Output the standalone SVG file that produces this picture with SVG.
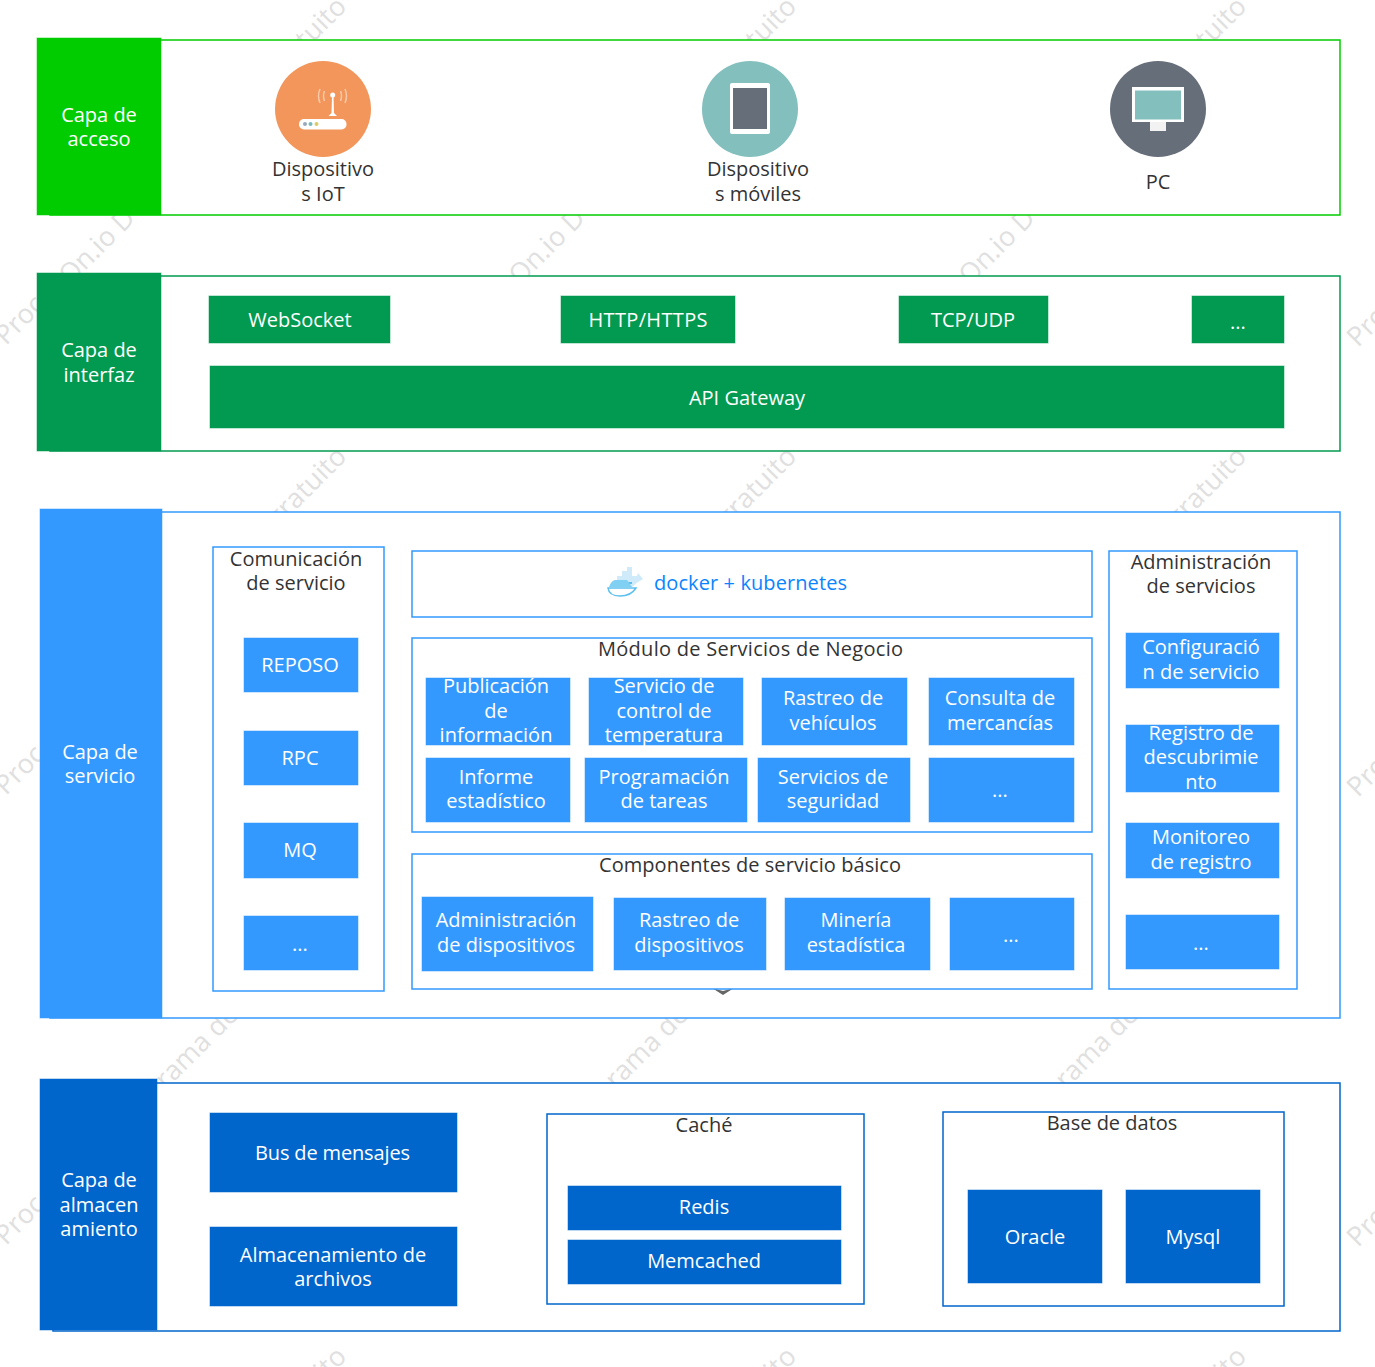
<svg xmlns="http://www.w3.org/2000/svg" width="1375" height="1367" viewBox="0 0 1375 1367">
<style>
text{font-family:"Open Sans","Noto Sans","Liberation Sans",sans-serif;font-size:20px;text-anchor:middle}
.w{fill:#fff}.d{fill:#333}
.ws text{fill:#e0e0e0;font-size:27px;text-anchor:start}
.we text{fill:#e0e0e0;font-size:27px;text-anchor:end}
.g1{fill:#00cc00;stroke:#00cc00}.g2{fill:#029a50;stroke:#029a50}.b1{fill:#3399ff;stroke:#3399ff}.b2{fill:#0066cc;stroke:#0066cc}
.g1,.g2,.b1,.b2{stroke-width:1;stroke-opacity:.5}
.p{fill:#fff;stroke-width:1.5}
.sb{fill:#fff;stroke:#3399ff;stroke-width:1.5}
.sc{fill:#fff;stroke:#0066cc;stroke-width:1.5}
</style>
<rect width="1375" height="1367" fill="#fff"/>
<g id="watermarks">
<g class="ws">
<text transform="translate(6 346) rotate(-45)">Proc</text>
<text transform="translate(1358 348) rotate(-45)">Pro</text>
<text transform="translate(70 286) rotate(-45)">On.io D</text>
<text transform="translate(520 286) rotate(-45)">On.io D</text>
<text transform="translate(970 286) rotate(-45)">On.io D</text>
<text transform="translate(6 796) rotate(-45)">Proc</text>
<text transform="translate(1358 798) rotate(-45)">Pro</text>
<text transform="translate(6 1246) rotate(-45)">Proc</text>
<text transform="translate(1358 1248) rotate(-45)">Pro</text>
</g>
<g class="we">
<text transform="translate(348 8) rotate(-45)">tuito</text>
<text transform="translate(798 8) rotate(-45)">tuito</text>
<text transform="translate(1248 8) rotate(-45)">tuito</text>
<text transform="translate(348 458) rotate(-45)">gratuito</text>
<text transform="translate(798 458) rotate(-45)">gratuito</text>
<text transform="translate(1248 458) rotate(-45)">gratuito</text>
<text transform="translate(240 1016) rotate(-45)">rama de</text>
<text transform="translate(690 1016) rotate(-45)">rama de</text>
<text transform="translate(1140 1016) rotate(-45)">rama de</text>
<text transform="translate(348 1358) rotate(-45)">ito</text>
<text transform="translate(798 1358) rotate(-45)">ito</text>
<text transform="translate(1248 1358) rotate(-45)">ito</text>
</g>
</g>
<g id="connectors"></g>
<g id="layer-acceso">
<rect x="50" y="40" width="1290" height="175" class="p" stroke="#00cc00"/>
<rect x="37" y="38" width="124" height="177" class="g1"/>
<text class="w" x="99" y="122">Capa de</text><text class="w" x="99" y="146">acceso</text>
</g>
<g id="iot">
<circle cx="323" cy="109" r="48" fill="#f2965c"/>
<path d="M331.500 113l.5-17h1.500l.5 17 3 3h-8.500z" fill="#fff"/><circle cx="332.700" cy="95" r="2.500" fill="#fff"/>
<path d="M320 89q-3 7 0 14M324.500 91q-2 5 0 10M345 89q3 7 0 14M340.500 91q2 5 0 10" fill="none" stroke="#f9c9a8" stroke-width="1.500"/>
<rect x="299" y="119" width="47.500" height="10.500" rx="5" fill="#fff"/>
<circle cx="305" cy="124" r="2" fill="#9ab"/><circle cx="310.500" cy="124" r="2" fill="#7bb"/><circle cx="316.500" cy="124" r="2" fill="#dc6"/>
<text class="d" x="323" y="176">Dispositivo</text><text class="d" x="323" y="201">s IoT</text>
</g>
<g id="movil">
<circle cx="750" cy="109" r="48" fill="#82bfbd"/>
<rect x="730" y="83" width="40" height="51" rx="2" fill="#fff"/>
<rect x="733" y="88" width="34" height="41" fill="#666e7a"/>
<text class="d" x="758" y="176">Dispositivo</text><text class="d" x="758" y="201">s móviles</text>
</g>
<g id="pc">
<circle cx="1158" cy="109" r="48" fill="#666e7a"/>
<rect x="1150" y="121" width="16" height="10" fill="#f2f2f2"/>
<rect x="1132" y="87" width="52" height="35" fill="#fff"/>
<rect x="1135" y="90.500" width="46" height="29" fill="#82bfbd"/>
<text class="d" x="1158" y="189">PC</text>
</g>
<g id="layer-interfaz">
<rect x="50" y="276" width="1290" height="175" class="p" stroke="#029a50"/>
<rect x="37" y="273" width="124" height="178" class="g2"/>
<text class="w" x="99" y="357">Capa de</text><text class="w" x="99" y="382">interfaz</text>
</g>
<g id="websocket"><rect x="209" y="296" width="181" height="47" class="g2"/><text class="w" x="300" y="327">WebSocket</text></g>
<g id="http"><rect x="561" y="296" width="174" height="47" class="g2"/><text class="w" x="648" y="327" textLength="119">HTTP/HTTPS</text></g>
<g id="tcp"><rect x="899" y="296" width="149" height="47" class="g2"/><text class="w" x="973" y="327">TCP/UDP</text></g>
<g id="more-if"><rect x="1192" y="296" width="92" height="47" class="g2"/><text class="w" x="1238" y="329">...</text></g>
<g id="gateway"><rect x="210" y="366" width="1074" height="62" class="g2"/><text class="w" x="747" y="405">API Gateway</text></g>
<g id="layer-servicio">
<rect x="50" y="512" width="1290" height="506" class="p" stroke="#3399ff"/>
<path d="M712 988l11 7 11-7-11 3z" fill="#666"/>
<rect x="40" y="509" width="122" height="509" class="b1"/>
<text class="w" x="100" y="759">Capa de</text><text class="w" x="100" y="783">servicio</text>
</g>
<g id="comunicacion">
<rect x="213" y="547" width="171" height="444" class="sb"/>
<text class="d" x="296" y="566">Comunicación</text><text class="d" x="296" y="590">de servicio</text>
</g>
<g id="reposo"><rect x="244" y="638" width="114" height="54" class="b1"/><text class="w" x="300" y="672">REPOSO</text></g>
<g id="rpc"><rect x="244" y="731" width="114" height="54" class="b1"/><text class="w" x="300" y="765">RPC</text></g>
<g id="mq"><rect x="244" y="823" width="114" height="55" class="b1"/><text class="w" x="300" y="857">MQ</text></g>
<g id="more-com"><rect x="244" y="916" width="114" height="54" class="b1"/><text class="w" x="300" y="951">...</text></g>
<g id="docker">
<rect x="412" y="551" width="680" height="66" class="sb"/>
<path d="M617 583v-7h5v-5h5v-4h5v9h5l1-3 5 6q-6 3-11 8h-8z" fill="#cfeaf8"/>
<path d="M612 583h20" stroke="#5cc0ee" stroke-width="2" fill="none"/>
<path d="M608 588h28q-5 8-16 8-11 0-12-8z" fill="#fff" stroke="#5cc0ee" stroke-width="1.500"/>
<path d="M609 587q2-6 6-7h12l5 7z" fill="#7fd0f2"/>
<text x="750.500" y="590" fill="#0a84ff" textLength="193">docker + kubernetes</text>
</g>
<g id="negocio">
<rect x="412" y="638" width="680" height="194" class="sb"/>
<text class="d" x="750.500" y="656" textLength="305">Módulo de Servicios de Negocio</text>
</g>
<g id="publicacion"><rect x="426" y="678" width="144" height="67" class="b1"/><text class="w" x="496" y="693">Publicación</text><text class="w" x="496" y="718">de</text><text class="w" x="496" y="742">información</text></g>
<g id="temperatura"><rect x="589" y="678" width="154" height="67" class="b1"/><text class="w" x="664" y="693">Servicio de</text><text class="w" x="664" y="718">control de</text><text class="w" x="664" y="742">temperatura</text></g>
<g id="vehiculos"><rect x="762" y="678" width="145" height="67" class="b1"/><text class="w" x="833" y="705">Rastreo de</text><text class="w" x="833" y="730">vehículos</text></g>
<g id="mercancias"><rect x="929" y="678" width="145" height="67" class="b1"/><text class="w" x="1000" y="705">Consulta de</text><text class="w" x="1000" y="730">mercancías</text></g>
<g id="informe"><rect x="426" y="758" width="144" height="64" class="b1"/><text class="w" x="496" y="784">Informe</text><text class="w" x="496" y="808">estadístico</text></g>
<g id="tareas"><rect x="585" y="758" width="162" height="64" class="b1"/><text class="w" x="664" y="784">Programación</text><text class="w" x="664" y="808">de tareas</text></g>
<g id="seguridad"><rect x="758" y="758" width="152" height="64" class="b1"/><text class="w" x="833" y="784">Servicios de</text><text class="w" x="833" y="808">seguridad</text></g>
<g id="more-neg"><rect x="929" y="758" width="145" height="64" class="b1"/><text class="w" x="1000" y="797">...</text></g>
<g id="basico">
<rect x="412" y="854" width="680" height="135" class="sb"/>
<text class="d" x="750" y="872" textLength="302">Componentes de servicio básico</text>
</g>
<g id="admin-disp"><rect x="422" y="897" width="171" height="74" class="b1"/><text class="w" x="506" y="927">Administración</text><text class="w" x="506" y="952">de dispositivos</text></g>
<g id="rastreo-disp"><rect x="614" y="898" width="152" height="72" class="b1"/><text class="w" x="689" y="927">Rastreo de</text><text class="w" x="689" y="952">dispositivos</text></g>
<g id="mineria"><rect x="785" y="898" width="145" height="72" class="b1"/><text class="w" x="856" y="927">Minería</text><text class="w" x="856" y="952">estadística</text></g>
<g id="more-bas"><rect x="950" y="898" width="124" height="72" class="b1"/><text class="w" x="1011" y="942">...</text></g>
<g id="administracion">
<rect x="1109" y="551" width="188" height="438" class="sb"/>
<text class="d" x="1201" y="569">Administración</text><text class="d" x="1201" y="593">de servicios</text>
</g>
<g id="configuracion"><rect x="1126" y="633" width="153" height="55" class="b1"/><text class="w" x="1201" y="654">Configuració</text><text class="w" x="1201" y="679">n de servicio</text></g>
<g id="registro"><rect x="1126" y="725" width="153" height="67" class="b1"/><text class="w" x="1201" y="740">Registro de</text><text class="w" x="1201" y="764">descubrimie</text><text class="w" x="1201" y="789">nto</text></g>
<g id="monitoreo"><rect x="1126" y="823" width="153" height="55" class="b1"/><text class="w" x="1201" y="844">Monitoreo</text><text class="w" x="1201" y="869">de registro</text></g>
<g id="more-adm"><rect x="1126" y="915" width="153" height="54" class="b1"/><text class="w" x="1201" y="950">...</text></g>
<g id="layer-almacen">
<rect x="53" y="1083" width="1287" height="248" class="p" stroke="#0066cc"/>
<rect x="40" y="1079" width="117" height="251" class="b2"/>
<text class="w" x="99" y="1187">Capa de</text><text class="w" x="99" y="1212">almacen</text><text class="w" x="99" y="1236">amiento</text>
</g>
<g id="bus"><rect x="210" y="1113" width="247" height="79" class="b2"/><text class="w" x="332.500" y="1160" textLength="155">Bus de mensajes</text></g>
<g id="archivos"><rect x="210" y="1227" width="247" height="79" class="b2"/><text class="w" x="333" y="1262">Almacenamiento de</text><text class="w" x="333" y="1286">archivos</text></g>
<g id="cache">
<rect x="547" y="1114" width="317" height="190" class="sc"/>
<text class="d" x="704" y="1132">Caché</text>
</g>
<g id="redis"><rect x="568" y="1186" width="273" height="44" class="b2"/><text class="w" x="704" y="1214">Redis</text></g>
<g id="memcached"><rect x="568" y="1240" width="273" height="44" class="b2"/><text class="w" x="704" y="1268">Memcached</text></g>
<g id="base">
<rect x="943" y="1112" width="341" height="194" class="sc"/>
<text class="d" x="1112" y="1130">Base de datos</text>
</g>
<g id="oracle"><rect x="968" y="1190" width="134" height="93" class="b2"/><text class="w" x="1035" y="1244">Oracle</text></g>
<g id="mysql"><rect x="1126" y="1190" width="134" height="93" class="b2"/><text class="w" x="1193" y="1244">Mysql</text></g>
</svg>
